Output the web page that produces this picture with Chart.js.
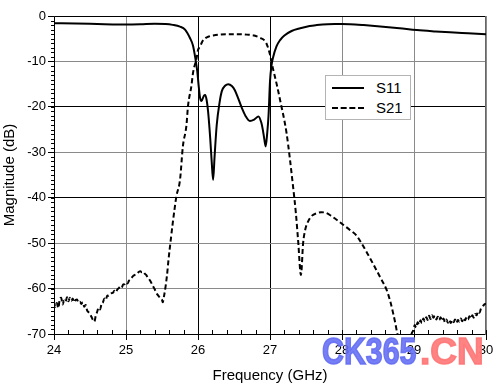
<!DOCTYPE html>
<html>
<head>
<meta charset="utf-8">
<script src="https://cdn.jsdelivr.net/npm/chart.js@4"></script>
<style>
  body { margin: 0; background: #fff; }
  #wrap { position: relative; width: 500px; height: 387px; }
  #legend { position: absolute; left: 325px; top: 75px; width: 84px; height: 43px;
            border: 1px solid #b4b4b4; background: #fff; font: 15px "Liberation Sans", Arial, sans-serif; }
  #legend .ln { position: absolute; left: 6px; width: 32px; height: 0; }
  #legend .tx { position: absolute; left: 50px; line-height: 16px; }
  .wm { position: absolute; top: 333px; font: bold 37px/37px "Liberation Sans", Arial, sans-serif;
        white-space: nowrap; transform-origin: left top; -webkit-text-stroke: 1.5px currentColor; }
</style>
</head>
<body>
<div id="wrap">
  <canvas id="c" width="500" height="387"></canvas>
  <div id="legend">
    <div class="ln" style="top:11px;border-top:2px solid #000"></div>
    <div class="tx" style="top:4px">S11</div>
    <div class="ln" style="top:31px;border-top:2px dashed #000"></div>
    <div class="tx" style="top:24px">S21</div>
  </div>
  <div class="wm" style="left:322px;color:rgba(98,108,242,0.88);transform:scaleX(0.82)">CK365</div>
  <div class="wm" style="left:420px;color:rgba(255,118,118,0.9)">.CN</div>
</div>
<script>
// S11 (실선)
const s11Freq = [24.00,24.30,24.60,24.90,25.00,25.20,25.40,25.55,25.65,25.75,25.82,25.89,25.93,25.96,25.99,26.01,26.03,26.05,26.08,26.10,
  26.12,26.14,26.17,26.19,26.21,26.23,26.26,26.30,26.33,26.38,26.42,26.47,26.51,26.56,26.61,26.66,26.72,26.78,26.84,26.88,
  26.90,26.92,26.94,26.96,26.98,27.00,27.02,27.04,27.09,27.14,27.20,27.30,27.42,27.55,27.65,27.80,27.90,28.00,28.11,28.30,
  28.57,28.80,29.04,29.30,29.50,29.75,30.00]
const s11Mag = [-1.6,-1.65,-1.75,-1.85,-1.85,-1.8,-1.7,-1.75,-1.95,-2.35,-3.0,-4.9,-6.5,-9.0,-12.2,-15.5,-18.1,-18.7,-17.6,-17.4,
  -18.5,-21,-27,-32,-36.1,-31,-24,-19,-16.6,-15.3,-15.0,-15.4,-16.3,-18.2,-20.3,-22.0,-23.1,-22.8,-22.1,-23.5,
  -25,-27,-28.7,-26,-21.8,-14.4,-11,-9.3,-6.7,-5.3,-4.3,-3.3,-2.7,-2.2,-2.0,-1.8,-1.75,-1.75,-1.8,-2.0,
  -2.35,-2.7,-3.1,-3.4,-3.6,-3.8,-4.0]

// S21 (점선)
const s21Freq = [24.00,24.02,24.04,24.06,24.08,24.10,24.12,24.14,24.16,24.18,24.20,24.22,24.24,24.26,24.28,24.30,24.32,24.34,24.36,24.38,
  24.40,24.42,24.44,24.46,24.48,24.50,24.52,24.54,24.56,24.58,24.60,24.62,24.64,24.66,24.68,24.70,24.72,24.74,24.76,24.78,
  24.80,24.82,24.84,24.86,24.88,24.90,24.92,24.94,24.96,24.98,25.00,25.02,25.04,25.06,25.08,25.10,25.12,25.14,25.16,25.18,
  25.20,25.22,25.24,25.26,25.28,25.30,25.32,25.34,25.36,25.38,25.40,25.42,25.44,25.46,25.48,25.50,25.51,25.53,25.55,25.57,
  25.59,25.62,25.65,25.70,25.75,25.79,25.84,25.86,25.91,25.93,25.98,26.00,26.03,26.06,26.10,26.15,26.21,26.30,26.44,26.55,
  26.68,26.78,26.86,26.93,26.96,27.00,27.01,27.04,27.07,27.10,27.14,27.23,27.32,27.36,27.39,27.43,27.46,27.49,27.53,27.58,
  27.65,27.71,27.77,27.85,27.93,28.02,28.11,28.20,28.27,28.35,28.44,28.53,28.62,28.67,28.71,28.74,28.77,28.82,28.88,28.94,
  28.97,28.99,29.01,29.03,29.05,29.07,29.09,29.11,29.13,29.15,29.17,29.19,29.21,29.23,29.25,29.27,29.29,29.31,29.33,29.35,
  29.37,29.39,29.41,29.43,29.45,29.47,29.49,29.51,29.53,29.55,29.57,29.59,29.61,29.63,29.65,29.67,29.69,29.71,29.73,29.75,
  29.77,29.79,29.81,29.83,29.85,29.87,29.89,29.91,29.93,29.95,29.97,30.00]
const s21Mag = [-63.0,-64.0,-63.2,-64.3,-62.3,-62.0,-63.5,-62.6,-63.0,-61.9,-62.8,-62.0,-62.7,-62.2,-63.0,-62.5,-62.4,-63.1,-62.9,-63.4,
  -63.0,-64.0,-63.6,-64.8,-65.2,-65.6,-66.2,-66.9,-67.3,-66.0,-65.1,-64.2,-64.6,-63.4,-63.0,-62.2,-62.5,-61.5,-61.6,-61.2,
  -61.0,-60.9,-60.5,-60.8,-60.2,-59.9,-59.6,-59.8,-59.1,-59.0,-58.6,-58.9,-58.3,-58.0,-57.6,-57.2,-57.0,-56.7,-56.6,-56.3,
  -56.2,-56.4,-56.3,-56.7,-57.0,-57.5,-57.9,-58.4,-59.0,-59.6,-60.2,-60.9,-61.4,-61.8,-62.2,-62.5,-63.0,-61.5,-59.5,-57.0,
  -53.7,-49.5,-45.5,-39.7,-36.1,-28.7,-24.0,-20.0,-15.2,-12.6,-9.3,-7.5,-6.7,-5.6,-4.9,-4.5,-4.3,-4.1,-4.0,-4.0,
  -4.1,-4.3,-4.8,-5.5,-6.4,-8.5,-9.3,-11.5,-13.5,-15.5,-18.5,-25.8,-37.5,-43.5,-49.3,-57.0,-50.0,-47.0,-45.2,-44.0,
  -43.4,-43.2,-43.3,-44.0,-44.9,-46.0,-47.1,-48.3,-50.0,-52.2,-54.8,-57.5,-60.3,-62.8,-65.4,-67.6,-70.0,-72.0,-73.0,-71.5,
  -69.8,-69.2,-68.0,-68.6,-67.4,-67.9,-67.0,-67.6,-66.6,-67.2,-66.3,-66.9,-66.0,-66.7,-65.9,-66.4,-66.0,-66.8,-66.2,-66.9,
  -66.3,-67.1,-66.6,-67.4,-66.8,-67.5,-66.9,-67.6,-66.9,-67.4,-66.8,-67.5,-66.9,-67.3,-66.6,-67.2,-66.5,-67.0,-66.3,-66.8,
  -66.1,-66.6,-65.9,-66.4,-65.6,-65.9,-65.0,-65.3,-64.4,-64.0,-63.6,-63.3]

const xTicks = [24,25,26,27,28,29,30]
const yTicks = [0,-10,-20,-30,-40,-50,-60,-70]

const toPts = (fs, ms) => fs.map((f,i) => ({x: f, y: ms[i]}))

// 그리드 색 (원본처럼 짙은/옅은 선이 섞여 있음)
const darkX = [26,27]
const darkY = [-20,-40]

// 작은 눈금 + 테두리
const framePlugin = {
  id: 'frame',
  beforeDatasetsDraw(chart){
    const {ctx, chartArea:a, scales} = chart
    ctx.save()
    ctx.strokeStyle = '#000'
    ctx.lineWidth = 1
    ctx.beginPath()
    for(let v = -70; v <= 0; v += 1){
      const y = Math.round(scales.y.getPixelForValue(v)) + 0.5
      ctx.moveTo(a.left - 3, y); ctx.lineTo(a.left, y)
    }
    for(let k = 0; k <= 30; k++){
      const x = Math.round(scales.x.getPixelForValue(24 + k*0.2)) + 0.5
      ctx.moveTo(x, a.bottom); ctx.lineTo(x, a.bottom - 4)
    }
    ctx.stroke()
    ctx.beginPath()
    ctx.moveTo(a.left + 0.5, a.bottom + 0.5)
    ctx.lineTo(a.left + 0.5, a.top + 0.5)
    ctx.lineTo(a.right - 0.5, a.top + 0.5)
    ctx.moveTo(a.left, a.bottom + 0.5)
    ctx.lineTo(a.right, a.bottom + 0.5)
    ctx.stroke()
    ctx.strokeStyle = '#666'
    ctx.beginPath()
    ctx.moveTo(a.right - 0.5, a.top)
    ctx.lineTo(a.right - 0.5, a.bottom + 1)
    ctx.stroke()
    ctx.restore()
  }
}

const font = { family: '"Liberation Sans", Arial, sans-serif', size: 13 }

new Chart(document.getElementById('c'), {
  type: 'line',
  data: {
    datasets: [
      { label: 'S11', data: toPts(s11Freq, s11Mag), borderColor: '#000', borderWidth: 2,
        pointRadius: 0, cubicInterpolationMode: 'monotone', fill: false },
      { label: 'S21', data: toPts(s21Freq, s21Mag), borderColor: '#000', borderWidth: 2, borderDash: [5,3],
        pointRadius: 0, cubicInterpolationMode: 'monotone', fill: false }
    ]
  },
  options: {
    responsive: false,
    animation: false,
    layout: { padding: { left: 0, right: 14, top: 16, bottom: 0 } },
    plugins: { legend: { display: false }, tooltip: { enabled: false } },
    scales: {
      x: {
        type: 'linear', min: 24, max: 30,
        afterBuildTicks: s => { s.ticks = xTicks.map(v => ({value: v})) },
        afterFit: s => { s.height = 53 },
        grid: {
          color: c => darkX.includes(c.tick && c.tick.value) ? '#000' : '#8a8a8a',
          tickColor: '#000', tickLength: 6, lineWidth: 1
        },
        border: { display: false },
        ticks: { color: '#000', font, padding: 3, maxRotation: 0 },
        title: { display: true, text: 'Frequency (GHz)', color: '#000',
                 font: { family: font.family, size: 15 }, padding: { top: 0, bottom: 2 } }
      },
      y: {
        type: 'linear', min: -70, max: 0,
        afterBuildTicks: s => { s.ticks = yTicks.map(v => ({value: v})) },
        afterFit: s => { s.width = 54 },
        grid: {
          color: c => darkY.includes(c.tick && c.tick.value) ? '#000' : '#8a8a8a',
          tickColor: '#000', tickLength: 6, lineWidth: 1
        },
        border: { display: false },
        ticks: { color: '#000', font, padding: 2 },
        title: { display: true, text: 'Magnitude (dB)', color: '#000',
                 font: { family: font.family, size: 15 }, padding: { top: 1, bottom: 0 } }
      }
    }
  },
  plugins: [framePlugin]
})
</script>
</body>
</html>
